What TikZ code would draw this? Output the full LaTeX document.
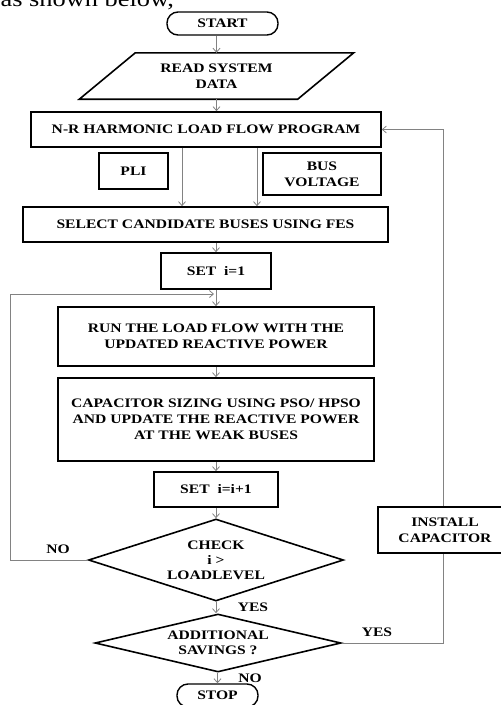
\documentclass[tikz,border=0pt]{standalone}
\usepackage{fontspec}
\setmainfont{Liberation Serif}[FakeStretch=1.2]
\usetikzlibrary{arrows.meta, positioning, shapes.geometric, calc}
\definecolor{flowgray}{RGB}{130,130,130}
\tikzset{
  terminal/.style={
    draw, rectangle, rounded corners=11pt, line width=1.4pt,
    minimum height=23pt, inner sep=0pt,
    font=\fontsize{13}{16}\selectfont\bfseries
  },
  process/.style={
    draw, rectangle, line width=1.6pt, inner sep=0pt, align=center,
    font=\fontsize{13}{16}\selectfont\bfseries
  },
  decision/.style={
    draw, diamond, line width=1.6pt, inner sep=0pt, align=center,
    font=\fontsize{13}{15}\selectfont\bfseries
  },
  arrow/.style={
    draw=flowgray, line width=0.8pt, -{Straight Barb[length=4pt, width=7pt]}
  },
  link/.style={
    draw=flowgray, line width=0.8pt
  },
  answer/.style={
    font=\fontsize{13}{16}\selectfont\bfseries
  }
}

\begin{document}
\begin{tikzpicture}[x=1pt, y=-1pt]
  \useasboundingbox (0,0) rectangle (501,705);
  \node[anchor=base west, font=\fontsize{22}{26}\selectfont] (intro) at (-3,6) {as shown below,};

  % main column
  \node[terminal, minimum width=111pt] (start) at (222.5,23.5) {START};
  \node[align=center, inner sep=0pt, minimum width=218pt, minimum height=46pt,
        font=\fontsize{13}{16}\selectfont\bfseries] (read) at (216.5,76) {READ SYSTEM\\DATA};
  \draw[line width=1.6pt] ([xshift=-28pt]read.south west) -- ([xshift=-28pt]read.south east)
    -- ([xshift=28pt]read.north east) -- ([xshift=28pt]read.north west) -- cycle;
  \node[process, minimum width=350pt, minimum height=35pt] (nr) at (206,129.5) {N-R HARMONIC LOAD FLOW PROGRAM};
  \node[process, minimum width=69pt, minimum height=36pt] (pli) at (133.5,171) {PLI};
  \node[process, minimum width=118pt, minimum height=42pt] (busv) at (322,174) {BUS\\VOLTAGE};
  \node[process, minimum width=365pt, minimum height=35pt] (sel) at (205.5,224.5) {SELECT CANDIDATE BUSES USING FES};
  \node[process, minimum width=110pt, minimum height=36pt] (set1) at (216,271) {SET~~i=1};
  \node[process, minimum width=316pt, minimum height=59pt] (run) at (216,336.5) {RUN THE LOAD FLOW WITH THE\\UPDATED REACTIVE POWER};
  \node[process, minimum width=316pt, minimum height=83pt] (cap) at (216,419.5) {CAPACITOR SIZING USING PSO/ HPSO\\AND UPDATE THE REACTIVE POWER\\AT THE WEAK BUSES};
  \node[process, minimum width=124pt, minimum height=35pt] (set2) at (216,489.5) {SET~~i=i+1};
  \node[decision, aspect=3.1, minimum width=255pt, minimum height=82pt] (check) at (216,560) {CHECK\\i >\\LOADLEVEL};
  \node[decision, aspect=4.2, minimum width=246pt, minimum height=58pt] (save) at (218,643) {ADDITIONAL\\SAVINGS ?};
  \node[terminal, minimum width=81pt] (stop) at (217.5,695.5) {STOP};
  \node[process, minimum width=134pt, minimum height=46pt] (install) at (445,530) {INSTALL\\CAPACITOR};
  \coordinate (join) at (214,294);

  % connectors
  \draw[arrow] (start.south -| read.north) -- (read.north);
  \draw[arrow] (read.south) -- (read.south |- nr.north);
  \draw[arrow] ([xshift=-24pt]nr.south) -- ([xshift=-24pt]nr.south |- sel.north);
  \draw[arrow] ([xshift=51pt]nr.south) -- ([xshift=51pt]nr.south |- sel.north);
  \draw[arrow] (sel.south -| set1.north) -- (set1.north);
  \draw[arrow] (set1) -- (run);
  \draw[arrow] (run) -- (cap);
  \draw[arrow] (cap) -- (set2);
  \draw[arrow] (set2) -- (check);
  \draw[arrow] (check.south) -- (check.south |- save.north);
  \draw[arrow] (save.south -| stop.north) -- (stop.north);
  \draw[arrow] (check.west) -- ++(-77,0) |- (join);
  \draw[link] (save.east) -| ([xshift=-2pt]install.south);
  \draw[arrow] ([xshift=-2pt]install.north) |- (nr.east);

  % answers
  \node[answer] (no1) at (58,549) {NO};
  \node[answer] (yes1) at (253,607) {YES};
  \node[answer] (yes2) at (377,632) {YES};
  \node[answer] (no2) at (250,678) {NO};
\end{tikzpicture}
\end{document}
